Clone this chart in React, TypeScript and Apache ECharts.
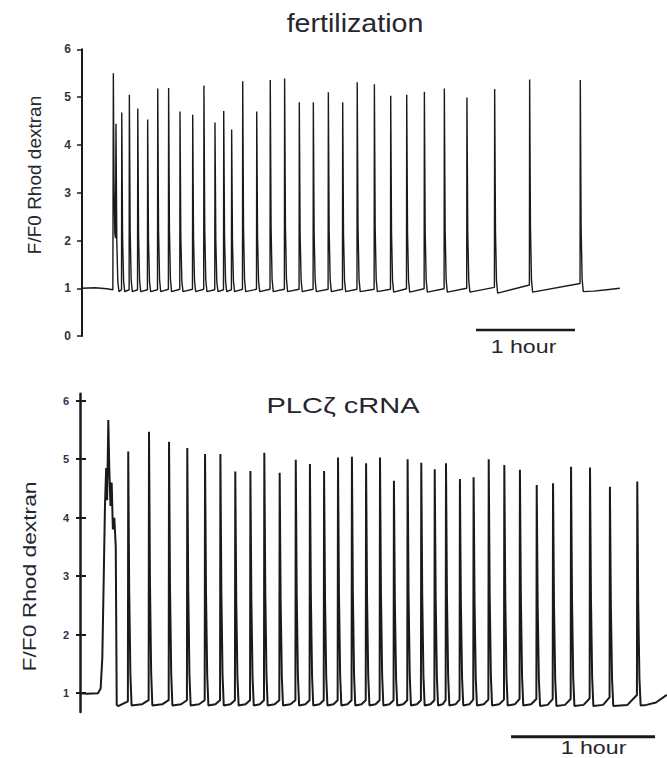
import React, { useEffect, useRef } from "react";
import * as echarts from "echarts";

// ---------- data (time in minutes, value F/F0) ----------
const yTicksTop = [0, 1, 2, 3, 4, 5, 6];
const yTicksBottom = [1, 2, 3, 4, 5, 6];

// fertilization: onset including first (double) spike
const topOnset: [number, number][] = [
  [0, 1.0], [8, 1.01], [15, 0.99], [18.7, 0.97], [19.0, 5.5], [19.4, 3.2], [19.9, 2.15], [20.3, 2.05],
];
const topSpikeTimes = [20.6, 24.1, 28.7, 33.8, 39.8, 45.9, 52.5, 59.4, 67.1, 73.9, 80.6, 85.9, 90.7, 97.4, 105.9, 114.1, 122.8, 131.7, 140.2, 149.3, 158.0, 166.8, 177.2, 187.1, 196.8, 207.5, 219.6, 233.3, 250.1, 271.3, 302.0];
const topSpikePeaks = [4.44, 4.68, 5.05, 4.76, 4.53, 5.18, 5.19, 4.70, 4.63, 5.24, 4.47, 4.71, 4.32, 5.33, 4.70, 5.36, 5.39, 4.89, 4.89, 5.10, 4.89, 5.31, 5.27, 5.03, 5.05, 5.11, 5.18, 4.99, 5.17, 5.37, 5.36];
const topPreValues = [2.05, 0.97, 0.97, 0.97, 0.97, 0.97, 0.98, 0.98, 0.98, 0.98, 0.97, 0.97, 0.97, 0.98, 0.98, 0.98, 0.98, 0.98, 0.98, 0.98, 0.98, 0.98, 0.98, 0.98, 0.99, 0.99, 0.99, 1.0, 1.02, 1.07, 1.1];
const topTroughs = [0.93, 0.93, 0.93, 0.93, 0.93, 0.93, 0.93, 0.93, 0.93, 0.93, 0.93, 0.93, 0.93, 0.93, 0.93, 0.93, 0.93, 0.93, 0.93, 0.93, 0.93, 0.93, 0.93, 0.92, 0.92, 0.92, 0.92, 0.92, 0.9, 0.92, 0.93];
const topTail: [number, number][] = [[310, 0.94], [318, 0.97], [326, 1.0]];
const topScaleBar: [number, number][] = [[238.8, 0.13], [298.8, 0.13]];

// PLCzeta cRNA: onset including first broad transient
const bottomOnset: [number, number][] = [
  [0, 1.0], [3, 0.99], [7.5, 1.0], [8.6, 1.08], [9.3, 1.6], [9.9, 3.0], [10.4, 4.2], [10.9, 4.85], [11.3, 4.3],
  [11.8, 5.67], [12.2, 4.85], [12.7, 4.2], [13.2, 4.6], [13.7, 3.8], [14.3, 4.0], [14.9, 3.5], [15.3, 0.8], [15.9, 0.78],
];
const bottomSpikeTimes = [20.1, 28.75, 37.1, 44.7, 52.1, 58.5, 64.7, 71.0, 76.8, 83.2, 89.9, 95.8, 101.7, 107.5, 113.3, 119.2, 125.0, 130.8, 136.5, 142.2, 147.8, 152.5, 158.3, 164.0, 170.3, 176.8, 183.3, 190.3, 197.1, 204.6, 212.5, 220.8, 232.2];
const bottomSpikePeaks = [5.13, 5.47, 5.30, 5.19, 5.09, 5.09, 4.79, 4.80, 5.11, 4.77, 4.99, 4.92, 4.80, 5.03, 5.04, 4.93, 5.03, 4.63, 5.0, 4.94, 4.83, 4.93, 4.66, 4.69, 5.0, 4.90, 4.82, 4.56, 4.59, 4.87, 4.86, 4.53, 4.62];
const bottomPreValues = [0.86, 0.88, 0.88, 0.88, 0.88, 0.88, 0.88, 0.88, 0.88, 0.88, 0.88, 0.88, 0.88, 0.88, 0.88, 0.88, 0.88, 0.88, 0.88, 0.88, 0.88, 0.88, 0.89, 0.89, 0.89, 0.89, 0.9, 0.9, 0.9, 0.9, 0.91, 0.93, 0.97];
const bottomTroughs = [0.79, 0.79, 0.79, 0.79, 0.79, 0.79, 0.79, 0.79, 0.79, 0.79, 0.79, 0.79, 0.79, 0.79, 0.79, 0.79, 0.79, 0.79, 0.79, 0.79, 0.79, 0.79, 0.79, 0.79, 0.79, 0.79, 0.79, 0.78, 0.78, 0.78, 0.78, 0.78, 0.79];
const bottomTail: [number, number][] = [[236, 0.8], [240, 0.84], [244.5, 0.97]];
const bottomScaleBar: [number, number][] = [[179.6, 0.5], [239.6, 0.5]];

// ---------- trace builder (waveform shape of a spike) ----------
type Tpl = { rise: number; fall: [number, number][]; troughAt: number; recover?: number };
function buildTrace(
  onset: [number, number][], times: number[], peaks: number[], pres: number[], troughs: number[],
  tail: [number, number][], tpl: Tpl
) {
  const pts: [number, number][] = [...onset];
  for (let i = 0; i < times.length; i++) {
    const t = times[i];
    pts.push([t - tpl.rise, pres[i]]);
    pts.push([t, peaks[i]]);
    for (const [dt, frac] of tpl.fall) pts.push([t + dt, troughs[i] + frac * (peaks[i] - troughs[i])]);
    pts.push([t + tpl.troughAt, troughs[i]]);
    if (tpl.recover && i + 1 < times.length) {
      const start = t + tpl.troughAt;
      const end = times[i + 1] - tpl.rise;
      pts.push([start + tpl.recover * (end - start), troughs[i] + 0.02]);
    }
  }
  return pts.concat(tail);
}

const FONT = '"Liberation Sans", Arial, Helvetica, sans-serif';
const TEXT = "#26262e";
const LINE = "#1a1a1a";

export default function App() {
  const ref = useRef<HTMLDivElement>(null);
  useEffect(() => {
    if (!ref.current) return;
    const chart = echarts.init(ref.current, undefined, { renderer: "svg" });
    const topData = buildTrace(topOnset, topSpikeTimes, topSpikePeaks, topPreValues, topTroughs, topTail,
      { rise: 0.15, fall: [[0.5, 0.3], [1.1, 0.06]], troughAt: 1.8 });
    const bottomData = buildTrace(bottomOnset, bottomSpikeTimes, bottomSpikePeaks, bottomPreValues, bottomTroughs, bottomTail,
      { rise: 0.15, fall: [[0.4, 0.45], [0.9, 0.12]], troughAt: 1.4, recover: 0.6 });

    const tickLabel = { color: "#333340", fontFamily: FONT, fontWeight: "bold" as const, fontSize: 12, margin: 11 };
    chart.setOption({
      animation: false,
      backgroundColor: "#ffffff",
      grid: [
        { left: 82, top: 49.3, width: 544.5, height: 286.8, containLabel: false, outerBoundsMode: "none" },
        { left: 80, top: 393.7, width: 588, height: 318.2, containLabel: false, outerBoundsMode: "none" },
        { left: 80, top: 729.7, width: 588, height: 14, containLabel: false, outerBoundsMode: "none" },
      ],
      xAxis: [
        { type: "value", gridIndex: 0, min: 0, max: 330, show: false },
        { type: "value", gridIndex: 1, min: 0, max: 245, show: false },
        { type: "value", gridIndex: 2, min: 0, max: 245, show: false },
      ],
      yAxis: [
        {
          type: "value", gridIndex: 0, position: "left", min: 0, max: 6, interval: 1,
          axisLine: { show: true, lineStyle: { color: LINE, width: 2 } },
          axisTick: { show: true, inside: false, length: 5, lineStyle: { color: LINE, width: 1.5 } },
          axisLabel: { ...tickLabel, customValues: yTicksTop },
          splitLine: { show: false },
        },
        {
          type: "value", gridIndex: 1, position: "left", min: 0.68, max: 6.12,
          axisLine: { show: true, lineStyle: { color: LINE, width: 2.5 } },
          axisTick: { show: true, inside: false, length: 4, lineStyle: { color: LINE, width: 2 }, customValues: yTicksBottom },
          axisLabel: { ...tickLabel, fontSize: 11, customValues: yTicksBottom },
          splitLine: { show: false },
        },
        {
          type: "value", gridIndex: 1, position: "left", min: 0.68, max: 6.12,
          axisLine: { show: false },
          axisTick: { show: true, inside: true, length: 6, lineStyle: { color: LINE, width: 2 }, customValues: yTicksBottom },
          axisLabel: { show: false },
          splitLine: { show: false },
        },
        { type: "value", gridIndex: 2, min: 0, max: 1, show: false },
      ],
      series: [
        {
          type: "line", xAxisIndex: 0, yAxisIndex: 0, data: topData, symbol: "none", silent: true,
          lineStyle: { color: LINE, width: 1.4 },
        },
        {
          type: "line", xAxisIndex: 0, yAxisIndex: 0, data: topScaleBar, symbol: "none", silent: true,
          lineStyle: { color: LINE, width: 2.5 },
        },
        {
          type: "line", xAxisIndex: 1, yAxisIndex: 1, data: bottomData, symbol: "none", silent: true,
          lineStyle: { color: LINE, width: 2 },
        },
        {
          type: "line", xAxisIndex: 2, yAxisIndex: 3, data: bottomScaleBar, symbol: "none", silent: true,
          lineStyle: { color: LINE, width: 3 },
        },
      ],
      graphic: [
        {
          type: "text", x: 355, y: 22.6, scaleX: 1.1,
          style: { text: "fertilization", font: `26px ${FONT}`, fill: TEXT, textAlign: "center", textVerticalAlign: "middle" },
        },
        {
          type: "text", x: 343, y: 405.5, scaleX: 1.32,
          style: { text: "PLCζ cRNA", font: `22px ${FONT}`, fill: TEXT, textAlign: "center", textVerticalAlign: "middle" },
        },
        {
          type: "text", x: 34, y: 175, rotation: Math.PI / 2,
          style: { text: "F/F0 Rhod dextran", font: `19px ${FONT}`, fill: TEXT, textAlign: "center", textVerticalAlign: "middle" },
        },
        {
          type: "text", x: 29, y: 576.5, rotation: Math.PI / 2, scaleX: 1.2,
          style: { text: "F/F0 Rhod dextran", font: `19px ${FONT}`, fill: TEXT, textAlign: "center", textVerticalAlign: "middle" },
        },
        {
          type: "text", x: 523.5, y: 346.3, scaleX: 1.22,
          style: { text: "1 hour", font: `19px ${FONT}`, fill: TEXT, textAlign: "center", textVerticalAlign: "middle" },
        },
        {
          type: "text", x: 593.5, y: 747.5, scaleX: 1.22,
          style: { text: "1 hour", font: `19px ${FONT}`, fill: TEXT, textAlign: "center", textVerticalAlign: "middle" },
        },
      ],
    });
    return () => chart.dispose();
  }, []);
  return <div ref={ref} style={{ position: "absolute", left: 0, top: 0, width: 667, height: 758 }} />;
}
